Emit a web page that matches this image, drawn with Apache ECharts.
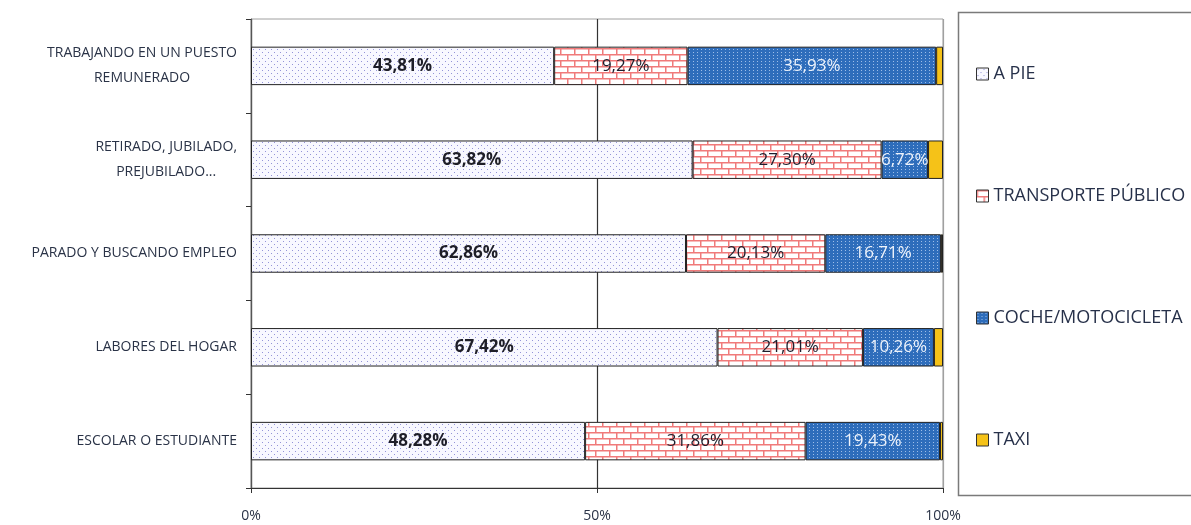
<!DOCTYPE html>
<html>
<head>
<meta charset="utf-8">
<script src="https://cdn.jsdelivr.net/npm/echarts@6/dist/echarts.min.js"></script>
<style>
  html, body { margin: 0; padding: 0; background: #fff; }
  #chart { width: 1191px; height: 525px; }
</style>
</head>
<body>
<div id="chart"></div>
<script>
// categories, top to bottom
const categories = [
  'TRABAJANDO EN UN PUESTO\nREMUNERADO',
  'RETIRADO, JUBILADO,\nPREJUBILADO...',
  'PARADO Y BUSCANDO EMPLEO',
  'LABORES DEL HOGAR',
  'ESCOLAR O ESTUDIANTE'
]
const seriesNames = ['A PIE', 'TRANSPORTE PÚBLICO', 'COCHE/MOTOCICLETA', 'TAXI']
const aPie = [43.81, 63.82, 62.86, 67.42, 48.28]
const transporte = [19.27, 27.30, 20.13, 21.01, 31.86]
const coche = [35.93, 6.72, 16.71, 10.26, 19.43]
const taxi = [0.99, 2.16, 0.30, 1.31, 0.43]
const xTicks = [0, 50, 100]

// fill patterns
function makePattern (w, h, draw) {
  const c = document.createElement('canvas')
  c.width = w
  c.height = h
  const ctx = c.getContext('2d')
  draw(ctx)
  return { image: c, repeat: 'repeat' }
}
const dots = makePattern(6, 6, function (ctx) {
  ctx.fillStyle = '#f8f8ff'
  ctx.fillRect(0, 0, 6, 6)
  ctx.fillStyle = '#9494d8'
  ctx.fillRect(1, 1, 1, 1)
  ctx.fillRect(4, 4, 1, 1)
})
const bricks = makePattern(14, 12, function (ctx) {
  ctx.fillStyle = '#ffffff'
  ctx.fillRect(0, 0, 14, 12)
  ctx.fillStyle = '#f07a7a'
  ctx.fillRect(0, 0, 14, 1.5)
  ctx.fillRect(0, 6, 14, 1.5)
  ctx.fillRect(0, 0, 1.5, 6)
  ctx.fillRect(7, 6, 1.5, 6)
})
const blueDots = makePattern(4, 3, function (ctx) {
  ctx.fillStyle = '#2e6dbb'
  ctx.fillRect(0, 0, 4, 3)
  ctx.fillStyle = '#9dbde8'
  ctx.fillRect(1, 1, 1, 1)
})

function pct (v) {
  return v.toFixed(2).replace('.', ',') + '%'
}

function barSeries (name, data, fill, label) {
  return {
    name: name,
    type: 'bar',
    stack: 'total',
    barWidth: '41%',
    data: data,
    itemStyle: { color: fill, borderColor: '#222', borderWidth: 1 },
    label: label,
    emphasis: { disabled: true }
  }
}

const chart = echarts.init(document.getElementById('chart'))
chart.setOption({
  animation: false,
  grid: {
    left: 251, right: 248, top: 19, bottom: 37,
    show: true, borderColor: '#a0a0a0', borderWidth: 1
  },
  graphic: [{
    type: 'rect',
    shape: { x: 958.5, y: 12.5, width: 300, height: 483 },
    style: { fill: 'none', stroke: '#7a7a7a', lineWidth: 1.5 }
  }],
  legend: {
    orient: 'vertical',
    left: 971,
    top: 60,
    itemGap: 104,
    itemWidth: 12,
    itemHeight: 12,
    icon: 'rect',
    itemStyle: { borderColor: '#333', borderWidth: 1 },
    textStyle: { fontFamily: 'Open Sans', fontSize: 18, color: '#27314a', padding: [0, 0, 0, 0] },
    data: seriesNames
  },
  xAxis: {
    type: 'value',
    min: xTicks[0],
    max: xTicks[xTicks.length - 1],
    interval: 50,
    axisLine: { show: true, lineStyle: { color: '#333', width: 1.2 } },
    axisTick: { show: true, length: 5, lineStyle: { color: '#333' } },
    axisLabel: {
      margin: 21,
      fontFamily: 'Open Sans',
      fontSize: 14,
      color: '#2a3347',
      formatter: function (v) { return v + '%' }
    },
    splitLine: { show: true, lineStyle: { color: ['#333', '#333', '#a0a0a0'], width: 1.2 } }
  },
  yAxis: {
    type: 'category',
    inverse: true,
    data: categories,
    axisLine: { show: true, lineStyle: { color: '#555', width: 1.2 } },
    axisTick: { show: true, length: 5, lineStyle: { color: '#333' } },
    axisLabel: {
      margin: 14,
      color: '#2a3347',
      fontFamily: 'Open Sans',
      fontSize: 14,
      lineHeight: 25,
      formatter: function (v) {
        return v.split('\n').map(function (l) { return '{c|' + l + '}' }).join('\n')
      },
      rich: {
        c: { align: 'center', fontFamily: 'Open Sans', fontSize: 14, color: '#2a3347', lineHeight: 25 }
      }
    }
  },
  series: [
    barSeries(seriesNames[0], aPie, dots, {
      show: true, position: 'inside', formatter: function (p) { return pct(p.value) },
      fontFamily: 'Open Sans', fontSize: 17, fontWeight: 'bold', color: '#1e1e28'
    }),
    barSeries(seriesNames[1], transporte, bricks, {
      show: true, position: 'inside', formatter: function (p) { return pct(p.value) },
      fontFamily: 'Open Sans', fontSize: 17, fontWeight: 500, color: '#1e1e2c'
    }),
    barSeries(seriesNames[2], coche, blueDots, {
      show: true, position: 'inside', formatter: function (p) { return pct(p.value) },
      fontFamily: 'Open Sans', fontSize: 17, color: '#eef3fb'
    }),
    barSeries(seriesNames[3], taxi, '#f5c218', { show: false })
  ]
})
</script>
</body>
</html>
